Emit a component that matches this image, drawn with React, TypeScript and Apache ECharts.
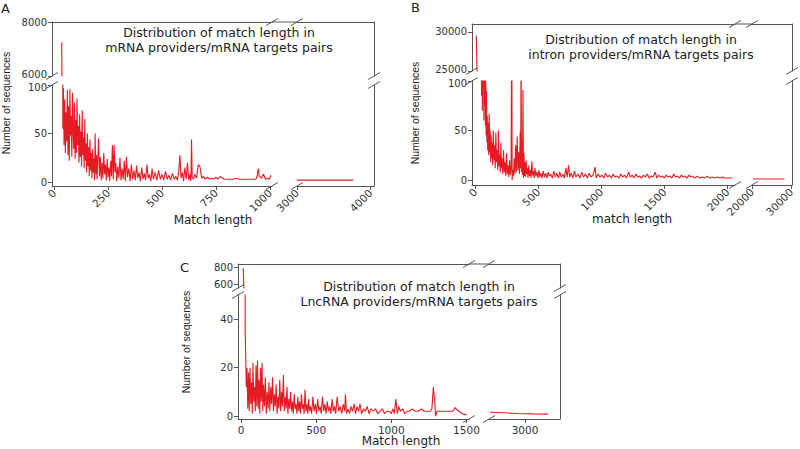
import React, { useEffect, useRef } from 'react';
import * as echarts from 'echarts';

// ---------- DATA ----------
// Panel A: mRNA providers / mRNA targets
const aLeftLen = [35, 40, 43, 46, 49, 52, 55, 58, 61, 64, 67, 70, 73, 76, 79, 82, 85, 88, 91, 94, 97, 100, 103, 106, 109, 112, 115, 118, 121, 124, 127, 130, 133, 136, 139, 142, 145, 148, 151, 154, 157, 160, 163, 166, 169, 172, 175, 178, 181, 184, 187, 190, 193, 196, 199, 202, 206, 210, 214, 218, 222, 226, 230, 234, 238, 242, 246, 250, 254, 258, 262, 266, 270, 274, 278, 282, 286, 290, 295, 300, 305, 310, 315, 320, 325, 330, 335, 340, 346, 352, 358, 364, 370, 376, 382, 388, 394, 400, 406, 412, 418, 424, 430, 436, 442, 448, 454, 460, 468, 476, 484, 492, 500, 508, 516, 524, 532, 540, 548, 556, 564, 572, 578, 583, 588, 594, 600, 606, 612, 618, 624, 630, 634, 637, 640, 646, 652, 660, 668, 676, 684, 692, 700, 710, 720, 730, 740, 750, 760, 770, 780, 790, 800, 815, 830, 845, 860, 875, 890, 905, 920, 935, 941, 946, 951, 960, 970, 980, 990, 998, 1005];
const aLeftCount = [7250, 55, 97, 38, 85, 30, 72, 42, 95, 28, 78, 22, 96, 48, 68, 26, 92, 52, 34, 82, 24, 64, 30, 86, 38, 58, 20, 70, 26, 52, 16, 74, 28, 46, 14, 65, 22, 40, 10, 50, 16, 36, 6, 44, 12, 30, 4, 34, 10, 24, 2, 50, 8, 28, 3, 22, 45, 6, 26, 2, 20, 4, 30, 8, 18, 2, 24, 5, 15, 1, 22, 6, 38, 3, 38, 10, 20, 1, 16, 4, 25, 2, 14, 3, 22, 1, 26, 5, 14, 1, 18, 3, 12, 2, 17, 4, 10, 1, 15, 3, 9, 2, 18, 4, 8, 1, 14, 3, 10, 2, 12, 3, 8, 2, 11, 3, 7, 2, 9, 3, 6, 2, 12, 28, 4, 10, 1, 15, 3, 20, 2, 8, 1, 44, 5, 3, 8, 4, 18, 16, 4, 6, 3, 5, 3, 4, 3, 5, 3, 6, 4, 3, 3, 3, 3, 4, 3, 3, 3, 3, 3, 3, 6, 14, 6, 4, 8, 3, 4, 3, 7];
const aRightLen = [3000, 3200, 3400, 3600, 3770];
const aRightCount = [2, 2, 2, 2, 2];

// Panel B: intron providers / mRNA targets
const bLeftLen = [10, 48, 52, 55, 58, 61, 64, 67, 70, 73, 76, 79, 82, 85, 88, 91, 94, 97, 100, 104, 108, 112, 116, 120, 124, 128, 132, 136, 140, 145, 150, 155, 160, 165, 170, 175, 180, 185, 190, 195, 200, 205, 210, 215, 220, 226, 232, 238, 244, 250, 256, 262, 268, 274, 280, 286, 291, 294, 298, 304, 310, 316, 322, 328, 334, 340, 346, 352, 358, 362, 365, 368, 372, 376, 380, 384, 388, 392, 396, 400, 405, 410, 415, 420, 426, 432, 438, 444, 450, 456, 462, 468, 475, 482, 490, 498, 506, 514, 522, 530, 540, 550, 560, 570, 580, 590, 600, 612, 624, 636, 648, 660, 672, 684, 696, 708, 720, 730, 741, 750, 762, 775, 788, 800, 815, 830, 845, 860, 875, 890, 905, 920, 935, 952, 960, 975, 990, 1005, 1020, 1035, 1050, 1065, 1080, 1095, 1110, 1125, 1140, 1155, 1170, 1185, 1200, 1217, 1230, 1245, 1260, 1275, 1290, 1305, 1320, 1335, 1350, 1365, 1380, 1395, 1410, 1429, 1440, 1455, 1470, 1485, 1500, 1515, 1530, 1545, 1560, 1575, 1590, 1605, 1620, 1635, 1650, 1665, 1680, 1695, 1710, 1725, 1740, 1760, 1780, 1800, 1820, 1840, 1860, 1880, 1900, 1920, 1940, 1960, 1980, 2000, 2040];
const bLeftCount = [29500, 140, 85, 160, 70, 120, 95, 150, 60, 110, 75, 130, 55, 100, 45, 90, 38, 65, 30, 58, 25, 67, 28, 50, 18, 45, 22, 38, 15, 50, 20, 35, 12, 48, 18, 30, 10, 50, 14, 26, 8, 38, 12, 22, 6, 30, 8, 18, 4, 27, 6, 15, 3, 20, 5, 12, 180, 0, 10, 4, 22, 6, 35, 8, 44, 10, 28, 6, 49, 12, 150, 8, 40, 5, 91, 2, 27, 4, 18, 3, 20, 6, 12, 2, 15, 4, 10, 2, 19, 5, 9, 2, 12, 4, 8, 2, 10, 3, 7, 2, 9, 3, 7, 2, 8, 4, 6, 2, 9, 3, 7, 2, 8, 3, 6, 2, 12, 3, 15, 3, 7, 2, 9, 3, 6, 2, 8, 3, 6, 2, 7, 3, 5, 13, 2, 6, 3, 5, 2, 7, 3, 5, 2, 6, 3, 4, 2, 6, 3, 5, 2, 8, 3, 5, 2, 6, 3, 4, 2, 5, 3, 6, 2, 4, 3, 8, 2, 5, 3, 4, 2, 5, 3, 4, 2, 6, 3, 4, 2, 5, 3, 4, 2, 5, 3, 4, 2, 4, 2, 3, 2, 4, 2, 3, 2, 3, 2, 3, 2, 2, 2];
const bRightLen = [20300, 22000, 24000, 26000, 28300];
const bRightCount = [1, 1, 1, 1, 1];

// Panel C: LncRNA providers / mRNA targets
const cLeftLen = [15, 28, 35, 40, 45, 50, 55, 60, 65, 70, 75, 80, 85, 90, 95, 100, 105, 110, 115, 120, 125, 130, 135, 140, 145, 150, 156, 162, 168, 174, 180, 186, 192, 198, 204, 210, 216, 222, 228, 234, 240, 246, 252, 258, 264, 270, 276, 282, 288, 294, 300, 306, 312, 318, 324, 330, 336, 342, 348, 354, 360, 366, 372, 378, 384, 390, 396, 402, 408, 414, 420, 426, 432, 438, 444, 450, 456, 462, 470, 478, 486, 494, 502, 510, 518, 526, 534, 542, 550, 558, 566, 574, 582, 590, 598, 606, 614, 622, 630, 640, 650, 660, 670, 680, 690, 695, 702, 712, 722, 732, 742, 752, 762, 772, 782, 792, 802, 815, 828, 840, 852, 865, 880, 895, 910, 925, 940, 955, 970, 985, 1000, 1010, 1020, 1030, 1040, 1050, 1060, 1075, 1090, 1105, 1120, 1140, 1160, 1180, 1200, 1220, 1240, 1260, 1270, 1280, 1290, 1295, 1305, 1320, 1340, 1360, 1380, 1400, 1410, 1425, 1440, 1460, 1480, 1500];
const cLeftCount = [790, 35, 12, 20, 3, 18, 2, 20, 5, 14, 1, 22, 6, 12, 2, 21, 4, 23, 3, 15, 1, 20, 6, 22, 2, 13, 4, 16, 1, 10, 3, 14, 2, 12, 5, 16, 2, 9, 4, 13, 1, 8, 3, 15, 2, 10, 4, 17, 2, 8, 3, 12, 1, 7, 3, 10, 2, 6, 1, 9, 3, 5, 1, 8, 2, 6, 1, 9, 3, 5, 1, 11, 2, 5, 1, 7, 2, 4, 1, 8, 2, 5, 1, 7, 2, 4, 1, 8, 2, 5, 1, 6, 2, 4, 1, 7, 2, 4, 1, 8, 2, 4, 1, 5, 2, 9, 1, 3, 1, 4, 2, 5, 1, 4, 2, 5, 1, 3, 2, 4, 1, 3, 2, 3, 1, 2, 3, 1, 2, 2, 1, 3, 1, 7, 1, 4, 2, 3, 1, 2, 2, 3, 2, 2, 3, 2, 2, 2, 3, 12, 5, 0, 2, 2, 2, 2, 2, 2, 2, 3.5, 2.5, 1.5, 0.8, 0.5];
const cRightLen = [2030, 2400, 2800, 3200, 3640];
const cRightCount = [1.6, 1.4, 1.1, 0.9, 0.8];

// tick labels
const aYUpperTicks = [6000, 8000];
const aYLowerTicks = [0, 50, 100];
const aXLeftTicks = [0, 250, 500, 750, 1000];
const aXRightTicks = [3000, 4000];
const bYUpperTicks = [25000, 30000];
const bYLowerTicks = [0, 50, 100];
const bXLeftTicks = [0, 500, 1000, 1500, 2000];
const bXRightTicks = [20000, 30000];
const cYUpperTicks = [600, 800];
const cYLowerTicks = [0, 20, 40];
const cXLeftTicks = [0, 500, 1000, 1500];
const cXRightTicks = [3000];

// ---------- LAYOUT / STYLE ----------
const FONT = '"DejaVu Sans", Arial, sans-serif';
const AXIS = '#555';
const RED = '#e61a22';
const TXT = '#222';
const LBL = '#333';

type Seg = [number, number, number, number]; // pixel start, pixel end, min, max
type Panel = {
  letter: string; letterXY: [number, number];
  title: [string, string]; titleXY: [number, number, number];
  xName: string; xNameXY: [number, number]; yNameXY: [number, number];
  xL: Seg; xR: Seg; yU: Seg; yL: Seg;
  yUTicks: number[]; yLTicks: number[]; xLTicks: number[]; xRTicks: number[];
  rotate: number; tight: boolean;
  left: [number[], number[]]; right: [number[], number[]];
};

const panels: Panel[] = [
  {
    letter: 'A', letterXY: [1, 2],
    title: ['Distribution of match length in', 'mRNA providers/mRNA targets pairs'], titleXY: [219, 32.5, 47.5],
    xName: 'Match length', xNameXY: [213, 220], yNameXY: [6, 103],
    xL: [52, 272, -10, 1010], xR: [297, 374, 3000, 4050],
    yU: [22, 76, 6000, 8000], yL: [85, 186, -4, 100],
    yUTicks: aYUpperTicks, yLTicks: aYLowerTicks, xLTicks: aXLeftTicks, xRTicks: aXRightTicks,
    rotate: 45, tight: true, left: [aLeftLen, aLeftCount], right: [aRightLen, aRightCount],
  },
  {
    letter: 'B', letterXY: [411, 1],
    title: ['Distribution of match length in', 'intron providers/mRNA targets pairs'], titleXY: [641, 39.5, 54.5],
    xName: 'match length', xNameXY: [632, 219], yNameXY: [415, 113],
    xL: [472, 735, -24, 2060], xR: [752, 792, 20000, 30200],
    yU: [24, 71, 25000, 31000], yL: [81, 185, -5, 100],
    yUTicks: bYUpperTicks, yLTicks: bYLowerTicks, xLTicks: bXLeftTicks, xRTicks: bXRightTicks,
    rotate: 45, tight: true, left: [bLeftLen, bLeftCount], right: [bRightLen, bRightCount],
  },
  {
    letter: 'C', letterXY: [180, 261],
    title: ['Distribution of match length in', 'LncRNA providers/mRNA targets pairs'], titleXY: [419, 286.5, 301.5],
    xName: 'Match length', xNameXY: [401, 441], yNameXY: [186, 342],
    xL: [238, 469, -20, 1517], xR: [489, 560, 2000, 3970],
    yU: [264, 288, 560, 840], yL: [295, 419, -1.2, 50],
    yUTicks: cYUpperTicks, yLTicks: cYLowerTicks, xLTicks: cXLeftTicks, xRTicks: cXRightTicks,
    rotate: 0, tight: false, left: [cLeftLen, cLeftCount], right: [cRightLen, cRightCount],
  },
];

function axisOpt(gridIndex: number, seg: Seg, position: string, ticks: number[] | null,
  rotate: number, fontSize: number, shift: 'min' | 'max' | null) {
  const has = !!ticks;
  const t = ticks || [];
  const base = { fontSize, fontFamily: FONT, color: LBL };
  return {
    type: 'value', gridIndex, min: seg[2], max: seg[3], position,
    splitLine: { show: false },
    axisLine: { show: true, onZero: false, lineStyle: { color: AXIS, width: 1 } },
    axisTick: { show: has, length: 4, customValues: has ? t : undefined, lineStyle: { color: AXIS } },
    axisLabel: {
      show: has, customValues: has ? t : undefined, rotate, margin: 5, ...base,
      formatter: (v: number) => {
        if (shift === 'min' && v === t[0]) return `{u|${v}}`;
        if (shift === 'max' && v === t[t.length - 1]) return `{d|${v}}`;
        return String(v);
      },
      rich: {
        u: { ...base, padding: [0, 0, 4, 0] },
        d: { ...base, padding: [4, 0, 0, 0] },
      },
    },
  };
}

function slash(cx: number, cy: number) {
  return {
    type: 'line', silent: true,
    shape: { x1: cx - 6, y1: cy + 3.5, x2: cx + 6, y2: cy - 3.5 },
    style: { stroke: AXIS, lineWidth: 1 },
  };
}

function buildOption() {
  const grid: any[] = [], xAxis: any[] = [], yAxis: any[] = [], series: any[] = [], graphic: any[] = [];
  panels.forEach((p) => {
    const leftData = p.left[0].map((x, i) => [x, p.left[1][i]]);
    const rightData = p.right[0].map((x, i) => [x, p.right[1][i]]);
    const cells = [
      { x: p.xL, y: p.yU, xPos: 'top', yPos: 'left', xT: null, yT: p.yUTicks, data: leftData, sh: p.tight ? 'min' : null },
      { x: p.xL, y: p.yL, xPos: 'bottom', yPos: 'left', xT: p.xLTicks, yT: p.yLTicks, data: leftData, sh: p.tight ? 'max' : null },
      { x: p.xR, y: p.yU, xPos: 'top', yPos: 'right', xT: null, yT: null, data: rightData, sh: null },
      { x: p.xR, y: p.yL, xPos: 'bottom', yPos: 'right', xT: p.xRTicks, yT: null, data: rightData, sh: null },
    ];
    cells.forEach((c) => {
      const gi = grid.length;
      grid.push({ left: c.x[0], top: c.y[0], width: c.x[1] - c.x[0], height: c.y[1] - c.y[0] });
      xAxis.push(axisOpt(gi, c.x, c.xPos, c.xT, p.rotate, 10.5, null));
      yAxis.push(axisOpt(gi, c.y, c.yPos, c.yT, 0, 10, c.sh as any));
      series.push({
        type: 'line', xAxisIndex: gi, yAxisIndex: gi, data: c.data,
        showSymbol: false, symbol: 'none', clip: true,
        lineStyle: { color: RED, width: 1.1 }, itemStyle: { color: RED },
      });
    });
    // break marks
    graphic.push(slash(p.xL[0], p.yU[1]), slash(p.xL[0], p.yL[0]));
    graphic.push(slash(p.xR[1], p.yU[1]), slash(p.xR[1], p.yL[0]));
    graphic.push(slash(p.xL[1], p.yU[0]), slash(p.xR[0], p.yU[0]));
    graphic.push(slash(p.xL[1], p.yL[1]), slash(p.xR[0], p.yL[1]));
    graphic.push({
      type: 'line', silent: true,
      shape: { x1: p.xL[1], y1: p.yU[0], x2: p.xR[0], y2: p.yU[0] },
      style: { stroke: AXIS, lineWidth: 1 },
    });
    // texts
    graphic.push({
      type: 'text', x: p.letterXY[0], y: p.letterXY[1],
      style: { text: p.letter, fontSize: 13, fontFamily: FONT, fill: TXT, align: 'left', verticalAlign: 'top' },
    });
    [0, 1].forEach((k) => {
      graphic.push({
        type: 'text', x: p.titleXY[0], y: p.titleXY[1 + k],
        style: {
          text: p.title[k], fontSize: 12.5, fontFamily: FONT,
          fill: TXT, align: 'center', verticalAlign: 'middle',
        },
      });
    });
    graphic.push({
      type: 'text', x: p.xNameXY[0], y: p.xNameXY[1],
      style: { text: p.xName, fontSize: 12, fontFamily: FONT, fill: TXT, align: 'center', verticalAlign: 'middle' },
    });
    graphic.push({
      type: 'text', x: p.yNameXY[0], y: p.yNameXY[1], rotation: Math.PI / 2,
      style: { text: 'Number of sequences', fontSize: 10.5, fontFamily: 'Arial, "Liberation Sans", sans-serif', fill: TXT, align: 'center', verticalAlign: 'middle' },
    });
  });
  return { animation: false, backgroundColor: '#fff', grid, xAxis, yAxis, series, graphic };
}

export default function App() {
  const ref = useRef<HTMLDivElement>(null);
  useEffect(() => {
    document.body.style.margin = '0';
    if (!ref.current) return;
    const chart = echarts.init(ref.current, undefined, { renderer: 'svg' });
    chart.setOption(buildOption() as any);
    return () => chart.dispose();
  }, []);
  return <div ref={ref} style={{ width: 800, height: 449, position: 'absolute', left: 0, top: 0 }} />;
}
